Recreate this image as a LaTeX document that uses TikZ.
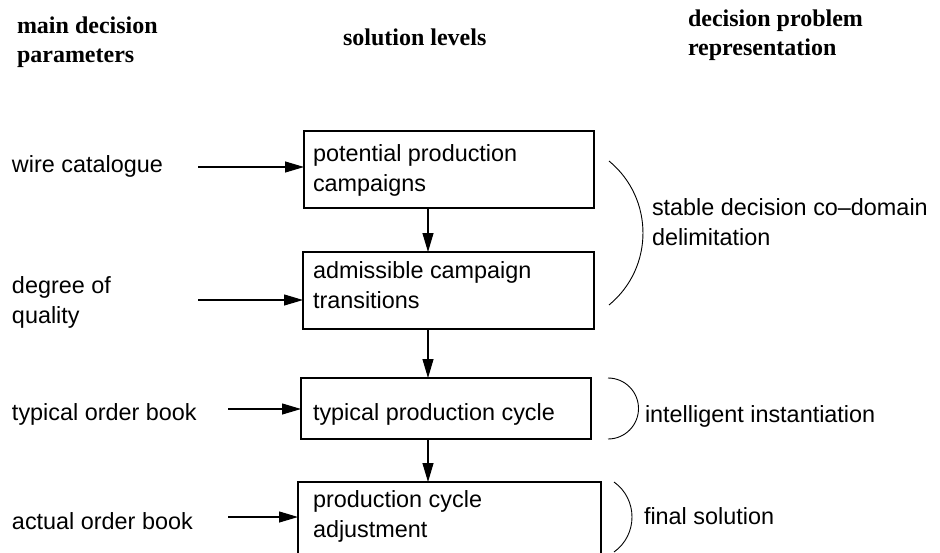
\documentclass[tikz,border=0pt]{standalone}
\usepackage{fontspec}
\setmainfont{Liberation Sans}
\newfontfamily\headfont{Liberation Serif}
\usetikzlibrary{arrows.meta}
\begin{document}
\begin{tikzpicture}[x=1pt,y=-1pt,
  every node/.style={inner sep=0pt, outer sep=0pt},
  plain/.style={anchor=base west, align=left, font=\fontsize{23.4}{30}\selectfont},
  heading/.style={anchor=base west, align=left, font=\headfont\bfseries\fontsize{24}{28.5}\selectfont},
  levelbox/.style={draw, line width=1.1pt, anchor=north west},
  feed/.style={line width=1.1pt, -{Triangle[length=19pt,width=11pt]}},
  span/.style={line width=0.9pt}]
\useasboundingbox (0,0) rectangle (940,552);
\clip (0,0) rectangle (940,552);

% column headings (base anchor sits on the last line)
\node[heading] (h1) at (17,62) {main decision\\parameters};
\node[heading] (h2) at (343,45) {solution levels};
\node[heading] (h3) at (688,55) {decision problem\\representation};

% solution levels
\node[levelbox, minimum width=290pt, minimum height=77pt] (b1) at (304,131) {};
\node[levelbox, minimum width=291pt, minimum height=77pt] (b2) at (303,252) {};
\node[levelbox, minimum width=290pt, minimum height=61pt] (b3) at (301,378) {};
\node[levelbox, minimum width=303pt, minimum height=85pt] (b4) at (298,482) {};
\node[plain] (t1) at (313,191) {potential production\\campaigns};
\node[plain] (t2) at (313,308) {admissible campaign\\transitions};
\node[plain] (t3) at (313,420) {typical production cycle};
\node[plain] (t4) at (313,537) {production cycle\\adjustment};

% decision parameters
\node[plain] (p1) at (12,172) {wire catalogue};
\node[plain] (p2) at (12,323) {degree of\\quality};
\node[plain] (p3) at (12,420) {typical order book};
\node[plain] (p4) at (12,529) {actual order book};

\coordinate (s1) at (198,167);
\coordinate (s2) at (198,300);
\coordinate (s3) at (228,409);
\coordinate (s4) at (228,517);
\draw[feed] (s1) -- (s1 -| b1.west);
\draw[feed] (s2) -- (s2 -| b2.west);
\draw[feed] (s3) -- (s3 -| b3.west);
\draw[feed] (s4) -- (s4 -| b4.west);

% flow between levels
\coordinate (spine) at (428,0);
\draw[feed] (b1.south -| spine) -- (b2.north -| spine);
\draw[feed] (b2.south -| spine) -- (b3.north -| spine);
\draw[feed] (b3.south -| spine) -- (b4.north -| spine);

% representation brackets
\draw[span] (609,161) .. controls (654.3,198.3) and (654.3,267.7) .. (609,305);
\draw[span] (608,378) .. controls (624.85,378) and (638.5,391.65) .. (638.5,408.5)
                      .. controls (638.5,425.35) and (624.85,439) .. (608,439);
\draw[span] (614,482) .. controls (638,499.1) and (638,534.9) .. (614,552);

\node[plain] (r1) at (652,245) {stable decision co–domain\\delimitation};
\node[plain] (r2) at (645,422) {intelligent instantiation};
\node[plain] (r3) at (644,524) {final solution};
\end{tikzpicture}
\end{document}
